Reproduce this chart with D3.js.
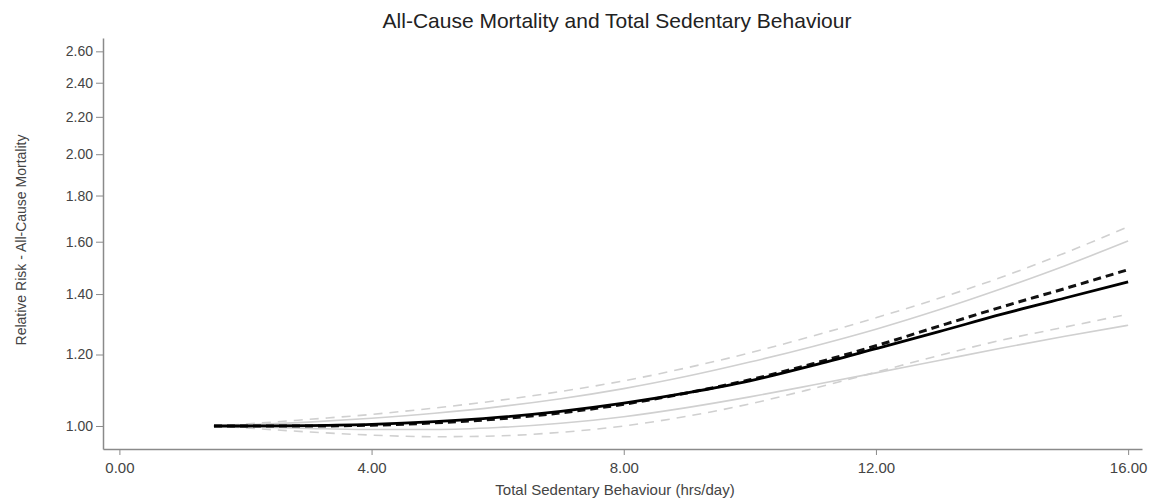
<!DOCTYPE html>
<html>
<head>
<meta charset="utf-8">
<script src="https://cdn.jsdelivr.net/npm/d3@7"></script>
<style>
  body { margin: 0; background: #fff; }
  text { font-family: "Liberation Sans", Arial, sans-serif; }
</style>
</head>
<body>
<div id="chart"></div>
<script>
// hours of sedentary behaviour per day
const hours = [1.5, 2, 3, 4, 5, 6, 7, 8, 9, 10, 11, 12, 13, 14, 15, 16]

// relative risk curves
const rrSolid      = [1.000, 1.000, 1.001, 1.004, 1.011, 1.022, 1.038, 1.060, 1.088, 1.122, 1.167, 1.218, 1.272, 1.330, 1.386, 1.444]
const rrDashed     = [1.000, 1.000, 1.000, 1.002, 1.008, 1.018, 1.034, 1.057, 1.088, 1.125, 1.172, 1.227, 1.290, 1.355, 1.420, 1.490]
const upperSolid   = [1.000, 1.003, 1.010, 1.020, 1.033, 1.050, 1.072, 1.100, 1.135, 1.177, 1.225, 1.280, 1.345, 1.420, 1.505, 1.603]
const upperDashed  = [1.000, 1.005, 1.017, 1.030, 1.047, 1.067, 1.092, 1.122, 1.160, 1.205, 1.258, 1.318, 1.385, 1.462, 1.555, 1.662]
const lowerSolid   = [1.000, 0.998, 0.994, 0.991, 0.991, 0.996, 1.007, 1.024, 1.048, 1.077, 1.110, 1.145, 1.182, 1.220, 1.257, 1.293]
const lowerDashed  = [1.000, 0.995, 0.985, 0.977, 0.973, 0.975, 0.984, 1.000, 1.025, 1.058, 1.100, 1.147, 1.197, 1.245, 1.287, 1.330]

const xTicks = [0, 4, 8, 12, 16]
const yTicks = [1.0, 1.2, 1.4, 1.6, 1.8, 2.0, 2.2, 2.4, 2.6]

const width = 1159
const height = 499

const svg = d3.select("#chart")
    .append("svg")
    .attr("width", width)
    .attr("height", height)

const x = d3.scaleLinear()
    .domain([-0.26, 16.22])
    .range([103, 1142])

const y = d3.scaleLog()
    .domain([0.943, 2.69])
    .range([449, 38])

const layer_axes = svg.append("g")
const layer_lines = svg.append("g")
const layer_text = svg.append("g")

const axisColor = "#8a8a8a"

layer_axes.append("g")
    .attr("transform", `translate(0,${y.range()[0]})`)
    .call(d3.axisBottom(x).tickValues(xTicks).tickSize(6).tickSizeOuter(0).tickFormat(d3.format(".2f")))
    .call(g => g.select(".domain").attr("stroke", axisColor).attr("stroke-width", 1.5))
    .call(g => g.selectAll(".tick line").attr("stroke", axisColor))
    .call(g => g.selectAll(".tick text")
        .attr("fill", "#444")
        .attr("font-size", 15)
        .attr("font-family", "Liberation Sans, Arial, sans-serif")
        .attr("dy", "1.0em"))

layer_axes.append("g")
    .attr("transform", `translate(${x.range()[0]},0)`)
    .call(d3.axisLeft(y).tickValues(yTicks).tickSize(7).tickSizeOuter(0).tickFormat(d3.format(".2f")))
    .call(g => g.select(".domain").attr("stroke", axisColor).attr("stroke-width", 1.5))
    .call(g => g.selectAll(".tick line").attr("stroke", axisColor))
    .call(g => g.selectAll(".tick text")
        .attr("fill", "#444")
        .attr("font-size", 14)
        .attr("font-family", "Liberation Sans, Arial, sans-serif"))

const line = d3.line()
    .x((d, i) => x(hours[i]))
    .y(d => y(d))
    .curve(d3.curveMonotoneX)

const series = [
    {values: upperDashed, color: "#d0d0d0", width: 1.6, dash: "9,7"},
    {values: lowerDashed, color: "#d0d0d0", width: 1.6, dash: "9,7"},
    {values: upperSolid, color: "#d0d0d0", width: 1.6, dash: null},
    {values: lowerSolid, color: "#d0d0d0", width: 1.6, dash: null},
    {values: rrDashed, color: "#111", width: 3, dash: "8,5"},
    {values: rrSolid, color: "#000", width: 2.8, dash: null}
]

layer_lines.selectAll("path")
    .data(series)
    .join("path")
    .attr("fill", "none")
    .attr("stroke", d => d.color)
    .attr("stroke-width", d => d.width)
    .attr("stroke-dasharray", d => d.dash)
    .attr("d", d => line(d.values))

layer_text.append("text")
    .attr("x", 617)
    .attr("y", 28)
    .attr("text-anchor", "middle")
    .attr("font-size", 21)
    .attr("fill", "#222")
    .text("All-Cause Mortality and Total Sedentary Behaviour")

layer_text.append("text")
    .attr("x", 615)
    .attr("y", 495)
    .attr("text-anchor", "middle")
    .attr("font-size", 15)
    .attr("fill", "#444")
    .text("Total Sedentary Behaviour (hrs/day)")

layer_text.append("text")
    .attr("transform", "translate(26,240) rotate(-90)")
    .attr("text-anchor", "middle")
    .attr("font-size", 14)
    .attr("fill", "#444")
    .text("Relative Risk - All-Cause Mortality")
</script>
</body>
</html>
